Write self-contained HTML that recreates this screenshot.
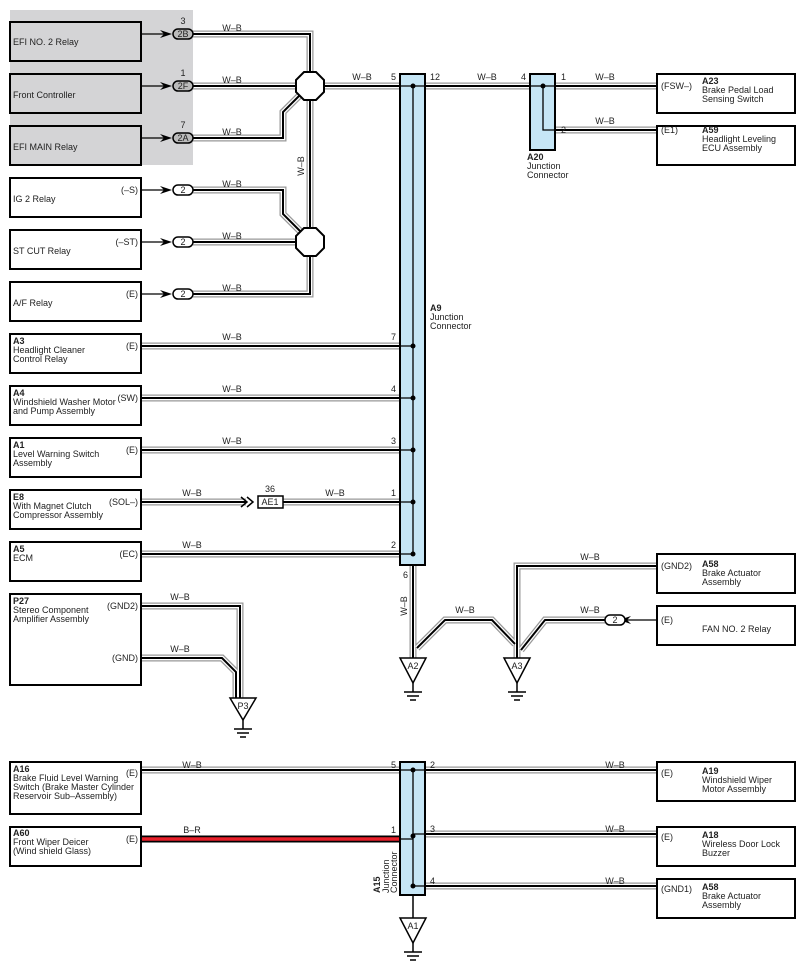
<!DOCTYPE html>
<html><head><meta charset="utf-8"><style>
html,body{margin:0;padding:0;background:#fff}
svg{display:block;font-family:"Liberation Sans",sans-serif}
text{font-size:9px;fill:#222}
.b{font-weight:bold}
</style></head><body>
<svg width="800" height="971" viewBox="0 0 800 971" xmlns="http://www.w3.org/2000/svg">
<rect x="10" y="10" width="183" height="155" fill="#d4d4d6"/>
<defs>
<g id="wires" fill="none" stroke-linejoin="miter">
<path d="M193 34 H310 V294 H193"/>
<path d="M193 86 H400"/>
<path d="M193 138 H283 V112 L300 95"/>
<path d="M193 190 H283 V214 L300 231"/>
<path d="M193 242 H310"/>
<path d="M425 86 H530"/>
<path d="M555 86 H657"/>
<path d="M555 130 H657"/>
<path d="M141 346 H400"/>
<path d="M141 398 H400"/>
<path d="M141 450 H400"/>
<path d="M141 502 H246"/>
<path d="M283 502 H400"/>
<path d="M141 554 H400"/>
<path d="M413 565 V658"/>
<path d="M417 648 L445 620 H492 L515 644"/>
<path d="M517 658 V566 H657"/>
<path d="M521 650 L545 620 H605"/>
<path d="M141 606 H240 V698"/>
<path d="M141 658 H222 L236 672 V698"/>
<path d="M141 770 H400"/>
<path d="M425 770 H657"/>
<path d="M425 834 H657"/>
<path d="M425 886 H657"/>
</g>
</defs>
<use href="#wires" stroke="#999" stroke-width="7"/>
<use href="#wires" stroke="#fff" stroke-width="4.5"/>
<use href="#wires" stroke="#000" stroke-width="2"/>
<path d="M141 839 H400" stroke="#000" stroke-width="7" fill="none"/>
<path d="M141 839 H400" stroke="#e8202a" stroke-width="3.5" fill="none"/>

<g fill="#fff" stroke="#000" stroke-width="2">
<polygon points="304,72 316,72 324,80 324,92 316,100 304,100 296,92 296,80"/>
<polygon points="304,228 316,228 324,236 324,248 316,256 304,256 296,248 296,236"/>
</g>

<g fill="none" stroke="#000" stroke-width="2">
<rect x="10" y="22" width="131" height="39" fill="#d4d4d6"/>
<rect x="10" y="74" width="131" height="39" fill="#d4d4d6"/>
<rect x="10" y="126" width="131" height="39" fill="#d4d4d6"/>
<rect x="10" y="178" width="131" height="39"/>
<rect x="10" y="230" width="131" height="39"/>
<rect x="10" y="282" width="131" height="39"/>
<rect x="10" y="334" width="131" height="39"/>
<rect x="10" y="386" width="131" height="39"/>
<rect x="10" y="438" width="131" height="39"/>
<rect x="10" y="490" width="131" height="39"/>
<rect x="10" y="542" width="131" height="39"/>
<rect x="10" y="594" width="131" height="91"/>
<rect x="10" y="762" width="131" height="52"/>
<rect x="10" y="827" width="131" height="39"/>
<rect x="657" y="74" width="138" height="39"/>
<rect x="657" y="126" width="138" height="39"/>
<rect x="657" y="554" width="138" height="39"/>
<rect x="657" y="606" width="138" height="39"/>
<rect x="657" y="762" width="138" height="39"/>
<rect x="657" y="827" width="138" height="39"/>
<rect x="657" y="879" width="138" height="39"/>
</g>

<g stroke="#000" stroke-width="1.3" fill="none">
<path d="M141 34 H165 M141 86 H165 M141 138 H165 M141 190 H165 M141 242 H165 M141 294 H165 M657 620 H625"/>
</g>
<g fill="#000">
<path d="M160 30 L172 34 L160 38 L164 34Z"/><path d="M160 82 L172 86 L160 90 L164 86Z"/>
<path d="M160 134 L172 138 L160 142 L164 138Z"/><path d="M160 186 L172 190 L160 194 L164 190Z"/>
<path d="M160 238 L172 242 L160 246 L164 242Z"/><path d="M160 290 L172 294 L160 298 L164 294Z"/>
<path d="M631 616 L619 620 L631 624 L627 620Z"/>
</g>
<g fill="#fff" stroke="#000" stroke-width="1.5">
<rect x="173" y="29" width="20" height="10" rx="5" fill="#bbb"/>
<rect x="173" y="81" width="20" height="10" rx="5" fill="#bbb"/>
<rect x="173" y="133" width="20" height="10" rx="5" fill="#bbb"/>
<rect x="173" y="185" width="20" height="10" rx="5"/>
<rect x="173" y="237" width="20" height="10" rx="5"/>
<rect x="173" y="289" width="20" height="10" rx="5"/>
<rect x="605" y="615" width="20" height="10" rx="5"/>
<rect x="258" y="496" width="25" height="12"/>
</g>
<g stroke="#000" stroke-width="1.5" fill="none"><path d="M241 497 L247 502 L241 507 M247 497 L253 502 L247 507"/></g>
<g text-anchor="middle">
<text x="183" y="37">2B</text><text x="183" y="89">2F</text><text x="183" y="141">2A</text>
<text x="183" y="193">2</text><text x="183" y="245">2</text><text x="183" y="297">2</text>
<text x="615" y="623">2</text><text x="270" y="505">AE1</text>
<text x="183" y="24">3</text><text x="183" y="76">1</text><text x="183" y="128">7</text><text x="270" y="492">36</text>
</g>

<g fill="#c6e6f6" stroke="#000" stroke-width="2">
<rect x="400" y="74" width="25" height="491"/>
<rect x="530" y="74" width="25" height="76"/>
<rect x="400" y="762" width="25" height="133"/>
</g>
<g stroke="#000" stroke-width="1.3" fill="none">
<path d="M400 86 H425 M413 86 V554 M400 346 H413 M400 398 H413 M400 450 H413 M400 502 H413 M400 554 H413"/>
<path d="M530 86 H555 M543 86 V130 H555"/>
<path d="M400 770 H425 M413 770 V886 H425 M413 834 H425 M400 839 H413"/>
</g>
<g fill="#000">
<circle cx="413" cy="86" r="2.5"/><circle cx="413" cy="346" r="2.5"/><circle cx="413" cy="398" r="2.5"/>
<circle cx="413" cy="450" r="2.5"/><circle cx="413" cy="502" r="2.5"/><circle cx="413" cy="554" r="2.5"/>
<circle cx="543" cy="86" r="2.5"/><circle cx="413" cy="770" r="2.5"/><circle cx="413" cy="836" r="2.5"/><circle cx="413" cy="886" r="2.5"/>
</g>

<g stroke="#000" stroke-width="1.5" fill="#fff">
<polygon points="400,658 426,658 413,683"/>
<polygon points="504,658 530,658 517,683"/>
<polygon points="230,698 256,698 243,720"/>
<polygon points="400,918 426,918 413,943"/>
<path d="M413 895 V918" fill="none"/>
<path d="M413 683 V692 M404 692 H422 M407 696 H419 M410 700 H416" fill="none"/>
<path d="M517 683 V692 M508 692 H526 M511 696 H523 M514 700 H520" fill="none"/>
<path d="M243 720 V729 M234 729 H252 M237 733 H249 M240 737 H246" fill="none"/>
<path d="M413 943 V952 M404 952 H422 M407 956 H419 M410 960 H416" fill="none"/>
</g>
<g text-anchor="middle"><text x="413" y="669">A2</text><text x="517" y="669">A3</text><text x="243" y="709">P3</text><text x="413" y="929">A1</text></g>

<g text-anchor="middle">
<text x="232" y="31">W–B</text><text x="232" y="83">W–B</text><text x="232" y="135">W–B</text>
<text x="232" y="187">W–B</text><text x="232" y="239">W–B</text><text x="232" y="291">W–B</text>
<text x="362" y="80">W–B</text><text x="487" y="80">W–B</text><text x="605" y="80">W–B</text><text x="605" y="124">W–B</text>
<text x="232" y="340">W–B</text><text x="232" y="392">W–B</text><text x="232" y="444">W–B</text>
<text x="192" y="496">W–B</text><text x="335" y="496">W–B</text><text x="192" y="548">W–B</text>
<text x="180" y="600">W–B</text><text x="180" y="652">W–B</text>
<text x="465" y="613">W–B</text><text x="590" y="560">W–B</text><text x="590" y="613">W–B</text>
<text x="192" y="768">W–B</text><text x="192" y="833">B–R</text>
<text x="615" y="768">W–B</text><text x="615" y="832">W–B</text><text x="615" y="884">W–B</text>
<text transform="translate(304,166) rotate(-90)">W–B</text>
<text transform="translate(407,606) rotate(-90)">W–B</text>
</g>
<g>
<text x="391" y="80">5</text><text x="430" y="80">12</text><text x="521" y="80">4</text><text x="561" y="80">1</text><text x="561" y="133">2</text>
<text x="391" y="340">7</text><text x="391" y="392">4</text><text x="391" y="444">3</text><text x="391" y="496">1</text><text x="391" y="548">2</text><text x="403" y="578">6</text>
<text x="391" y="768">5</text><text x="430" y="768">2</text><text x="391" y="833">1</text><text x="430" y="832">3</text><text x="430" y="884">4</text>
</g>
<text x="13" y="45">EFI NO. 2 Relay</text>
<text x="13" y="98">Front Controller</text>
<text x="13" y="150">EFI MAIN Relay</text>
<text x="13" y="202">IG 2 Relay</text><text x="138" y="193" text-anchor="end">(–S)</text>
<text x="13" y="254">ST CUT Relay</text><text x="138" y="245" text-anchor="end">(–ST)</text>
<text x="13" y="306">A/F Relay</text><text x="138" y="297" text-anchor="end">(E)</text>
<text x="13" y="344" class="b">A3</text><text x="13" y="353">Headlight Cleaner</text><text x="13" y="362">Control Relay</text><text x="138" y="349" text-anchor="end">(E)</text>
<text x="13" y="396" class="b">A4</text><text x="13" y="405">Windshield Washer Motor</text><text x="13" y="414">and Pump Assembly</text><text x="138" y="401" text-anchor="end">(SW)</text>
<text x="13" y="448" class="b">A1</text><text x="13" y="457">Level Warning Switch</text><text x="13" y="466">Assembly</text><text x="138" y="453" text-anchor="end">(E)</text>
<text x="13" y="500" class="b">E8</text><text x="13" y="509">With Magnet Clutch</text><text x="13" y="518">Compressor Assembly</text><text x="138" y="505" text-anchor="end">(SOL–)</text>
<text x="13" y="552" class="b">A5</text><text x="13" y="561">ECM</text><text x="138" y="557" text-anchor="end">(EC)</text>
<text x="13" y="604" class="b">P27</text><text x="13" y="613">Stereo Component</text><text x="13" y="622">Amplifier Assembly</text><text x="138" y="609" text-anchor="end">(GND2)</text><text x="138" y="661" text-anchor="end">(GND)</text>
<text x="13" y="772" class="b">A16</text><text x="13" y="781">Brake Fluid Level Warning</text><text x="13" y="790">Switch (Brake Master Cylinder</text><text x="13" y="799">Reservoir Sub–Assembly)</text><text x="138" y="776" text-anchor="end">(E)</text>
<text x="13" y="836" class="b">A60</text><text x="13" y="845">Front Wiper Deicer</text><text x="13" y="854">(Wind shield Glass)</text><text x="138" y="842" text-anchor="end">(E)</text>
<text x="661" y="89">(FSW–)</text><text x="702" y="84" class="b">A23</text><text x="702" y="93">Brake Pedal Load</text><text x="702" y="102">Sensing Switch</text>
<text x="661" y="133">(E1)</text><text x="702" y="133" class="b">A59</text><text x="702" y="142">Headlight Leveling</text><text x="702" y="151">ECU Assembly</text>
<text x="661" y="569">(GND2)</text><text x="702" y="567" class="b">A58</text><text x="702" y="576">Brake Actuator</text><text x="702" y="585">Assembly</text>
<text x="661" y="623">(E)</text><text x="702" y="632">FAN NO. 2 Relay</text>
<text x="661" y="776">(E)</text><text x="702" y="774" class="b">A19</text><text x="702" y="783">Windshield Wiper</text><text x="702" y="792">Motor Assembly</text>
<text x="661" y="840">(E)</text><text x="702" y="838" class="b">A18</text><text x="702" y="847">Wireless Door Lock</text><text x="702" y="856">Buzzer</text>
<text x="661" y="892">(GND1)</text><text x="702" y="890" class="b">A58</text><text x="702" y="899">Brake Actuator</text><text x="702" y="908">Assembly</text>
<text x="527" y="160" class="b">A20</text><text x="527" y="169">Junction</text><text x="527" y="178">Connector</text>
<text x="430" y="311" class="b">A9</text><text x="430" y="320">Junction</text><text x="430" y="329">Connector</text>
<text transform="translate(380,893) rotate(-90)" class="b">A15</text>
<text transform="translate(389,893) rotate(-90)">Junction</text>
<text transform="translate(397,893) rotate(-90)">Connector</text>
</svg>
</body></html>
